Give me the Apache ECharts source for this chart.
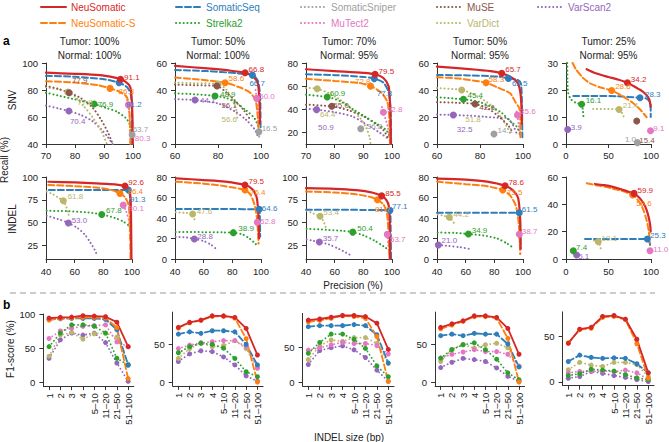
<!DOCTYPE html>
<html><head><meta charset="utf-8">
<script src="https://cdn.jsdelivr.net/npm/echarts@6/dist/echarts.min.js"></script>
<style>html,body{margin:0;padding:0;background:#fff}#c{width:669px;height:442px}</style>
</head><body><div id="c"></div>
<script>
// ---------------- DATA ----------------
const methods = ['NeuSomatic','NeuSomatic-S','SomaticSeq','Strelka2','SomaticSniper','MuTect2','MuSE','VarDict','VarScan2'];
const tumorTitles = ['Tumor: 100%','Tumor: 50%','Tumor: 70%','Tumor: 50%','Tumor: 25%'];
const normalTitles = ['Normal: 100%','Normal: 100%','Normal: 95%','Normal: 95%','Normal: 95%'];
const sizeCats = ['1','2','3','4','5–10','11–20','21–50','51–100'];

// SNV x/y ranges and tick labels
const snvXRange = [[70,100],[60,100],[70,100],[60,100],[0,100]];
const snvXTicks = [[70,80,90,100],[60,80,100],[70,80,90,100],[60,80,100],[0,50,100]];
const snvYRange = [[40,100],[0,60],[10,80],[0,60],[0,30]];
const snvYTicks = [[40,60,80,100],[0,20,40,60],[20,40,60,80],[0,20,40,60],[0,10,20,30]];
const indelXRange = [[40,100],[40,100],[40,100],[40,100],[0,100]];
const indelXTicks = [[40,60,80,100],[40,60,80,100],[40,60,80,100],[40,60,80,100],[0,50,100]];
const indelYRange = [[10,100],[0,80],[10,100],[0,80],[0,60]];
const indelYTicks = [[25,50,75,100],[0,20,40,60,80],[25,50,75,100],[0,20,40,60,80],[0,20,40,60]];
const f1YRange = [[-6,100],[-5,92],[-5.5,98],[-5,92],[-4,77]];
const f1YTicks = [[0,50,100],[0,50],[0,50],[0,50],[0,50]];

// curves in method order: NeuSomatic, NeuSomatic-S, SomaticSeq, Strelka2, SomaticSniper, MuTect2, MuSE, VarDict, VarScan2
const snv1_curves = [
 [[70,92.8],[80,92],[88.6,91],[93,89.5],[95.7,88],[97.5,86],[99,82.5],[99.5,75],[99.8,60],[99.9,40]],
 [[70,86.5],[80,85.5],[88,83.5],[92.1,81.2],[95,79],[97.8,75],[98.7,65],[99,52],[99.1,40]],
 [[70,90.5],[80,89.8],[90,88],[95.2,85.4],[98,82],[99.3,76],[99.7,60],[99.8,40]],
 [[70,78],[75,75.5],[80,73],[86.6,69.6],[91,66.5],[94.4,64],[97.8,58.6],[99.3,52],[99.8,40]],
 [[99.5,56],[99.7,46.8],[99.8,40]],
 [[97.6,75],[98.4,69],[98.9,58],[99.1,40]],
 [[70,83],[74,81],[78,78],[82,74],[86,67],[89,58],[91.5,48],[93,40]],
 [[70,82],[74,80.5],[77.5,78.5],[80,75],[83,68],[86,60],[89,50],[91,40]],
 [[70,68.5],[74,66.5],[77.9,64.4],[82,61.5],[86,57],[89,51],[91,46],[93,40]]
];
const snv1_points = [[95.7,88],[92.1,81.2],[95.2,85.4],[86.6,69.6],[99.7,46.8],[98.4,69],[78,78],[77.5,78.5],[77.9,64.4]];
const snv1_f1 = ['91.1','86.3','91.2','76.9','63.7','80.3','77.9','77.8','70.4'];

const snv2_curves = [
 [[60,57.8],[75,56],[85,54.5],[92.6,52.8],[96,50.5],[98.5,45],[99.3,30],[99.5,15]],
 [[60,49.2],[70,48],[83.3,45.4],[90,42],[95,38],[97.5,32],[98.5,20],[99,8]],
 [[60,54.8],[75,54],[88,52.5],[96,51],[98.5,47],[99.6,35],[99.8,12]],
 [[60,37.5],[70,36.8],[78.6,35.6],[84,34],[88,31],[93,25],[97,19],[99,12]],
 [[98.8,14],[99,9],[99.2,4]],
 [[97.5,40],[98,33.8],[98.5,25],[98.8,15]],
 [[60,44],[70,43.5],[79.5,43],[84,38],[88,32],[92,25],[95,18]],
 [[60,45.5],[70,45],[80,44.5],[84,40],[87,32],[88.5,25],[89,18]],
 [[60,33.2],[69.3,32.6],[80,30],[88,24],[93,18],[97,11],[98.5,6]]
];
const snv2_points = [[92.6,52.8],[83.3,45.4],[96,51],[78.6,35.6],[99,9],[98,33.8],[79.5,43],[80,44.5],[69.3,32.6]];
const snv2_f1 = ['66.8','58.6','66.7','48.9','16.5','50.0','56.1','56.6','44.1'];

const snv3_curves = [
 [[70,74.6],[80,73],[90,71.5],[94.1,70.3],[97,67],[98.8,60],[99.3,45],[99.5,30],[99.6,10]],
 [[70,66.3],[80,64.5],[88.8,62.6],[92.5,60],[96,55],[98.3,47],[99,35],[99.3,10]],
 [[70,70.3],[80,69.5],[90,68],[93.8,66.5],[97,63],[98.8,55],[99.5,40],[99.7,10]],
 [[70,52.6],[77.4,50.6],[82,47],[86.4,40],[91,33],[95,27],[98,22],[99.5,15]],
 null,
 [[96.5,42],[97,37.4],[98.5,25],[99.3,12]],
 [[70,44],[79,42.6],[85,39],[90,34],[94,28],[97,22],[98.5,16]],
 [[70,58.5],[73.9,57.7],[78,54],[82,48],[86,40],[89,32],[91,24],[92.3,15],[92.5,10]],
 [[70,40.5],[73.7,39.7],[80,37.5],[86,34],[90,28.6],[95,21],[99,14]]
];
const snv3_points = [[94.1,70.3],[92.5,60],[93.8,66.5],[77.4,50.6],[89.1,23.2],[97,37.4],[79,42.6],[73.9,57.7],[73.7,39.7]];
const snv3_f1 = ['79.5','72.8','77.8','60.9','36.8','52.8','55.0','64.4','50.9'];

const snv4_curves = [
 [[60,57.3],[75,55.5],[85,54],[90.1,52.4],[95,49],[97.7,45],[99,35],[99.5,15]],
 [[60,49.4],[70,48.5],[82.8,45.4],[88,42],[94,37.5],[96.5,31],[98.6,25],[98.8,5]],
 [[60,51.1],[75,50.8],[88,50],[93.2,48.6],[97.5,47.5],[99,45],[99.5,30],[99.7,5]],
 [[60,34.6],[72.3,33.1],[80,31],[89.3,24],[94,17],[97.1,12.8],[98.5,8]],
 null,
 [[97,24],[97.4,21.5],[98,14],[98.5,5]],
 [[60,31],[70,30.5],[77.7,29.6],[84,26],[89,20],[93,14],[95,9]],
 [[60,41.5],[71.5,40],[78,36],[86,27.6],[91.6,15.4],[94,8]],
 [[60,21.8],[67.6,21.5],[75,21],[82,20.2],[88,19.5],[92.4,19.3],[95,15],[97,8]]
];
const snv4_points = [[90.1,52.4],[82.8,45.4],[93.2,48.6],[72.3,33.1],[86.5,7.4],[97.4,21.5],[77.7,29.6],[71.5,40],[67.6,21.5]];
const snv4_f1 = ['65.7','58.3','62.5','45.4','14.1','35.6','42.6','51.8','32.5'];

const snv5_curves = [
 [[24.3,27.7],[35,26.2],[50,24.8],[62,23.8],[72.2,22.7],[82,21],[90,19.5],[95,18],[98,16.5],[99.6,13.8]],
 [[7.8,30],[12,27.5],[20,24.5],[28.2,22.5],[40,21],[53.7,19.8],[65,18],[79.2,15.1],[88,12.5],[94.9,9.9]],
 [[8.6,17.8],[30,17.8],[60,17.7],[87,17.1],[95,16.8],[99.5,15],[99.7,10]],
 [[1.5,30],[1.7,24],[2.5,19],[6,16.5],[12,15.2],[18.4,14.7],[20,12],[20.5,10]],
 null, null, null,
 [[32,13],[45,13],[62.4,12.8],[66,11.5],[68,10]],
 null
];
const snv5_points = [[72.2,22.7],[53.7,19.8],[87,17.1],[18.4,14.7],[84,0.5],[99.4,4.9],[83.2,8.5],[62.4,12.8],[2,5.4]];
const snv5_f1 = ['34.2','28.6','28.3','16.1','1.0','9.1','15.4','21.4','3.9'];

const indel1_curves = [
 [[41.6,94.8],[60,94],[75,93],[88,92],[95.1,90.1],[97.5,88],[98.8,80],[99.3,60],[99.5,30],[99.6,10]],
 [[41.6,91.2],[60,90],[75,88.5],[85,86],[91.6,82],[95,78],[97.5,70],[98.5,50],[99,10]],
 [[42,85.8],[60,85.8],[80,85.8],[95,85.8],[97.5,85.8],[98.5,80],[99,60],[99.2,40],[99.3,10]],
 [[40.5,62.9],[55,62.5],[70,61],[78.9,58.9],[88,55],[94,51],[98.6,45],[99.2,35]],
 null,
 [[93.9,69.1],[96,62],[98,50],[98.6,30]],
 null,
 [[40.5,84],[45,81],[49,77],[52.1,73.9],[54,68],[55.5,60],[56.5,55]],
 [[40.5,57.4],[48,54],[55.6,49.6],[62,44],[67,37],[71,28],[74,20],[75.4,15]]
];
const indel1_points = [[95.1,90.1],[91.6,82],[97.5,85.8],[78.9,58.9],null,[93.9,69.1],null,[52.1,73.9],[55.6,49.6]];
const indel1_f1 = ['92.6','86.4','91.3','67.8',null,'80.1',null,'61.8','53.0'];

const indel2_curves = [
 [[40.7,78.7],[60,77],[75,75.5],[88.8,72.2],[94,68],[97,60],[98.1,45],[98.5,30],[98.7,20]],
 [[40.7,75.4],[60,73.5],[75,71],[88.8,67.3],[93,62],[96,50],[97.5,35],[98.3,15]],
 [[40.7,48.8],[60,48.8],[80,48.7],[95,48.6],[98.8,48.5],[99.2,40],[99.4,22]],
 [[40.5,26.3],[60,26.2],[73,26],[80.7,25.7],[87,24],[92,20],[96,15],[98.1,12.7]],
 null,
 [[97.4,35.8],[97.8,28],[98.2,20]],
 null,
 [[40.5,45.5],[47,45],[52.3,43.9],[53.5,40],[54,35]],
 [[40.5,21.8],[48,21],[53.5,19.5],[60,17.5],[65,14],[69.1,9.4]]
];
const indel2_points = [[88.8,72.2],[88.8,67.3],[98.8,48.5],[80.7,25.7],null,[97.4,35.8],null,[52.3,43.9],[53.5,19.5]];
const indel2_f1 = ['79.5','76.4','64.6','38.9',null,'52.8',null,'47.6','28.8'];

const indel3_curves = [
 [[40,87.7],[60,87],[75,85.5],[86,83],[92.8,79.3],[96,75],[97.8,68],[98.4,50],[98.6,25],[98.7,10]],
 [[40,84],[60,83],[75,81],[85,78],[89.8,75],[94,70],[96.5,60],[97.5,40],[98,20],[98.2,10]],
 [[40,64.1],[60,64],[80,63.9],[95,63.7],[98.6,63.4],[99,50],[99.2,30],[99.3,10]],
 [[40.5,43.2],[55,42],[65,41],[72.6,39.5],[80,36],[88,30],[94,24],[98.6,18.8]],
 null,
 [[96.7,37],[97.5,25],[98,12]],
 null,
 [[40.5,63],[45,60],[49.8,56.9],[52,52],[53.5,46],[54.4,42]],
 [[40.5,31.5],[45,30],[49.3,28.6],[56,26],[63,21],[68,17],[71.9,13.4]]
];
const indel3_points = [[92.8,79.3],[89.8,75],[98.6,63.4],[72.6,39.5],null,[96.7,37],null,[49.8,56.9],[49.3,28.6]];
const indel3_f1 = ['85.5','81.7','77.1','50.4',null,'53.7',null,'53.4','35.7'];

const indel4_curves = [
 [[40,78.5],[60,77.5],[75,75.5],[87.5,71.5],[93,67],[96.5,60],[97.8,45],[98.2,30],[98.3,10]],
 [[40,75.5],[60,73],[75,71],[85.8,67.3],[91,62],[95,52],[97,35],[97.8,15],[98,5]],
 [[40,45.2],[60,45.2],[80,45.2],[97.4,45.2],[98,35],[98.2,20],[98.3,10]],
 [[40.5,25.8],[52,25.5],[61.9,24.4],[72,23],[82,20],[89,15],[93.7,10.4]],
 null,
 [[97.4,24.1],[97.8,15],[98.2,5]],
 null,
 [[40.5,43.5],[45,42],[48.6,40.7],[51,37],[52.6,33]],
 [[40.9,13.7],[48,12.8],[56,11.5],[64.2,9.5]]
];
const indel4_points = [[87.5,71.5],[85.8,67.3],[97.4,45.2],[61.9,24.4],null,[97.4,24.1],null,[48.6,40.7],[40.9,13.7]];
const indel4_f1 = ['78.6','75.5','61.5','34.9',null,'38.7',null,'44.2','21.0'];

const indel5_curves = [
 [[34.1,54.9],[45,54],[55,52.8],[65,51],[72,49.5],[80,48],[86,45],[91,41],[94.9,35.8],[97.5,30],[99.2,24],[99.6,20]],
 [[24.3,55.4],[35,54],[45,53],[55,51.5],[65,50],[78.4,46.8],[86,42],[91,36],[95,28],[97.5,20],[98.5,12]],
 [[22.4,14.6],[40,14.6],[60,14.6],[80,14.6],[95.7,14.6],[98,13],[99,10]],
 null, null, null, null,
 [[33,13.5],[38,12.7],[40,10],[41,7]],
 null
];
const indel5_points = [[80,48],[78.4,46.8],[95.7,14.6],[8.6,6.1],null,[98.8,6.1],null,[38,12.7],[12.5,2.9]];
const indel5_f1 = ['59.9','58.6','25.3','7.4',null,'11.0',null,'19.1','5.1'];

// F1 by INDEL size, method order: NeuSomatic, NeuSomatic-S, SomaticSeq, Strelka2, MuTect2, VarDict, VarScan2
const f1Methods = ['NeuSomatic','NeuSomatic-S','SomaticSeq','Strelka2','MuTect2','VarDict','VarScan2'];
const f1_p1 = [
 [94,95,95.5,97.5,97,96,88,52],
 [91,93.5,94,95,95,94,80,5],
 [92,93,93.5,93.5,93.5,92,77,25],
 [52,72,84,84,82,72,35,25],
 [64,75,79,82,83,84,59,52],
 [38,69,73,63,71,72,66,26],
 [35,62,72,69,72,58,28,1]
];
const f1_p2 = [
 [72,78.5,81.5,87,87,85,70.5,35.5],
 [71,78,81,86.5,86.5,84,57,0],
 [63,66,64,67.5,67.5,66,49.5,22.5],
 [38.5,46.5,51,49.5,44.5,31,13.5,7],
 [44,48.5,51.5,53,54.5,54.5,46.5,18],
 [31,44,51.5,46.5,48,54.5,44,20],
 [27,37,41,40,33,22.5,8,1]
];
const f1_p3 = [
 [88.5,90,92.5,95,95,93.5,84,46.5],
 [86,88,91,94.5,93.5,91,65,1],
 [79,80.5,80.5,80.5,82,80.5,67.5,27],
 [41,56.5,68.5,68.5,61,48,23,7.5],
 [45.5,49,53,56.5,55,55,52,40],
 [32,52,60,58,63.5,63.5,55,27],
 [25,45,49,51.5,46,35,17,1]
];
const f1_p4 = [
 [72,76.5,80.5,87,87,85,70.5,36.5],
 [70,75,80,86,86,84,57.5,0],
 [61,63,61,64,63,63,50,20],
 [31.5,42.5,49,51.5,42.5,30,12,3],
 [31.5,36.5,39.5,42.5,40,40,36.5,21],
 [27,43,49.5,44.5,49,51,45,20],
 [19,26,31,29.5,27,18.5,7.5,1]
];
const f1_p5 = [
 [42.5,58,60,72,73,69,47,10],
 [43,57.5,59,71,72,68.5,42,4],
 [22.5,29.5,27,26,26.5,26,20,10],
 [7,9,14,13,12,8,4.5,2.5],
 [10,11.5,12,12,11.5,13,10,3],
 [13.5,21.5,18.5,17,21.5,21.5,19,6],
 [4,6,11.5,9.5,7,5,2.5,0.5]
];

// ---------------- STYLE / LAYOUT ----------------
const FONT = 'Liberation Sans, Arial, Helvetica, sans-serif';
const DOT = [0.1, 3.7];
const DASH = [6, 3];
const mstyle = {
  'NeuSomatic':   {color:'#d62728', type:'solid', width:2.2},
  'NeuSomatic-S': {color:'#ff7f0e', type:DASH, width:2},
  'SomaticSeq':   {color:'#2e7ebc', type:DASH, width:2},
  'Strelka2':     {color:'#2ca02c', type:DOT, width:2},
  'SomaticSniper':{color:'#a0a0a0', type:DOT, width:2},
  'MuTect2':      {color:'#e377c2', type:DOT, width:2},
  'MuSE':         {color:'#8c564b', type:DOT, width:2},
  'VarDict':      {color:'#bbb66a', type:DOT, width:2},
  'VarScan2':     {color:'#9467bd', type:DOT, width:2}
};
const drawOrder = [8,7,6,5,4,3,2,1,0];

// label nudges (px) relative to dot, per panel, in method order
const snvNudge = [
 [[0,-2],[5,3],[3.5,22],[0,0],[-3,-5],[3,34],[-0.7,-12.7],[6,10],[-2.5,10.7]],
 [[0,-3],[0,-4],[-6.5,8],[1.5,-1],[-0.7,-3.6],[-1,-2],[1,20],[0,36],[1.5,0.7]],
 [[0,-3],[-19,-4.6],[-1,15],[-1,-4],[2.5,-2],[0,-3],[-2,-1],[-0.8,26],[-2,18]],
 [[0,-3.5],[-1,-3],[0,5],[0.5,-4],[0,-3.3],[-0.8,-3.3],[0.8,3.7],[0,29],[0,15]],
 [[0,-3.4],[0,-4],[1.5,-3.7],[0.5,-4.3],[-16,-3],[-0.7,-2.5],[-1,19.7],[0.2,-4.3],[-0.5,-2]]
];
const indelNudge = [
 [[-0.2,-3.3],[4,-1.6],[-2,10],[0.8,-4.3],null,[1.5,3.3],null,[0.8,-4],[-0.2,-2]],
 [[0,-3.3],[1.5,2.7],[-1,-1],[1.5,-4.3],null,[-0.8,-0.6],null,[0.5,-2.3],[-0.5,-3]],
 [[0,-2.7],[-6,9.5],[-1.5,-4],[1,-3.4],null,[-0.8,5],null,[-0.2,-3.4],[-0.1,-3.4]],
 [[-0.2,-3],[0.8,2.3],[-1,-2.7],[-0.2,-3],null,[-1,-2.6],null,[0.5,-2.3],[-0.2,-4.3]],
 [[0,-3.3],[0,8.3],[-0.8,-3.3],[-0.8,-3.4],null,[-0.2,-1.4],null,[-0.2,-3.4],[-2,1.7]]
];

const snvGrid = [[46,87],[175,86],[306,86],[437,86],[566,85]];
const indelGrid = [[46,86],[175,86],[306,86],[437,86],[566,85]];
const f1Grid = [[43.4,90.4,314,72.1],[172.7,90.4,312.1,73.7],[302.6,91.4,313.4,72.45],[435.1,89.5,312.1,73.7],[562.6,91.4,311.9,73.7]];

const snvPanels = [
  [snv1_curves, snv1_points, snv1_f1],
  [snv2_curves, snv2_points, snv2_f1],
  [snv3_curves, snv3_points, snv3_f1],
  [snv4_curves, snv4_points, snv4_f1],
  [snv5_curves, snv5_points, snv5_f1]
];
const indelPanels = [
  [indel1_curves, indel1_points, indel1_f1],
  [indel2_curves, indel2_points, indel2_f1],
  [indel3_curves, indel3_points, indel3_f1],
  [indel4_curves, indel4_points, indel4_f1],
  [indel5_curves, indel5_points, indel5_f1]
];
const f1Panels = [f1_p1, f1_p2, f1_p3, f1_p4, f1_p5];

// ---------------- BUILD ----------------
const grids = [], xAxes = [], yAxes = [], series = [];
const axisCol = '#333';
function valAxis(gi, range, ticks, margin) {
  return {
    type:'value', gridIndex:gi, min:range[0], max:range[1], scale:false,
    axisLine:{show:true, onZero:false, lineStyle:{color:axisCol, width:1}},
    axisTick:{show:true, inside:false, length:4, customValues:ticks, lineStyle:{color:axisCol, width:1}},
    axisLabel:{show:true, customValues:ticks, fontSize:9.5, color:'#222', margin:margin, fontFamily:FONT},
    splitLine:{show:false}
  };
}

function addPRPanel(panel, gridPos, top, height, xr, xt, yr, yt, nudges, xMargin) {
  const gi = grids.length;
  grids.push({left:gridPos[0], top:top, width:gridPos[1], height:height, containLabel:false, outerBoundsMode:'none'});
  xAxes.push(valAxis(gi, xr, xt, xMargin));
  yAxes.push(valAxis(gi, yr, yt, 8));
  const [curves, pts, f1] = panel;
  drawOrder.forEach(mi => {
    if (!curves[mi]) return;
    const m = methods[mi], s = mstyle[m];
    series.push({
      type:'line', name:m, xAxisIndex:gi, yAxisIndex:gi, data:curves[mi],
      symbol:'none', smooth:0.25, clip:true, silent:true, z:2,
      lineStyle:{color:s.color, width:s.width, type:s.type, cap:'round'}, itemStyle:{color:s.color}
    });
  });
  drawOrder.forEach(mi => {
    if (!pts[mi]) return;
    const m = methods[mi], s = mstyle[m];
    const nd = nudges[mi] || [0,-3];
    series.push({
      type:'scatter', name:m, xAxisIndex:gi, yAxisIndex:gi, data:[pts[mi]],
      symbol:'circle', symbolSize:7, clip:false, silent:true, z:4,
      itemStyle:{color:s.color, opacity:1},
      label:{show:true, position:'right', distance:0, offset:nd, formatter:f1[mi],
             color:s.color, fontSize:8, fontFamily:FONT}
    });
  });
}

for (let i = 0; i < 5; i++) {
  addPRPanel(snvPanels[i], snvGrid[i], 63, 81, snvXRange[i], snvXTicks[i], snvYRange[i], snvYTicks[i], snvNudge[i], 6);
}
for (let i = 0; i < 5; i++) {
  addPRPanel(indelPanels[i], indelGrid[i], 177, 82, indelXRange[i], indelXTicks[i], indelYRange[i], indelYTicks[i], indelNudge[i], 7);
}
const f1Order = [6,5,4,3,2,1,0];
for (let i = 0; i < 5; i++) {
  const gi = grids.length;
  const g = f1Grid[i];
  grids.push({left:g[0], width:g[1], top:g[2], height:g[3], containLabel:false, outerBoundsMode:'none'});
  xAxes.push({
    type:'category', gridIndex:gi, data:sizeCats, boundaryGap:true,
    axisLine:{show:true, onZero:false, lineStyle:{color:axisCol, width:1}},
    axisTick:{show:true, alignWithLabel:true, length:4, interval:0, lineStyle:{color:axisCol}},
    axisLabel:{show:true, rotate:90, interval:0, fontSize:9.5, color:'#222', margin:7, fontFamily:FONT},
    splitLine:{show:false}
  });
  yAxes.push(valAxis(gi, f1YRange[i], f1YTicks[i], 8));
  f1Order.forEach(mi => {
    const m = f1Methods[mi], s = mstyle[m];
    series.push({
      type:'line', name:m, xAxisIndex:gi, yAxisIndex:gi, data:f1Panels[i][mi],
      symbol:'circle', symbolSize:5, showSymbol:true, silent:true, z:3,
      lineStyle:{color:s.color, width:Math.min(s.width,1.8), type:s.type, cap:'round'},
      itemStyle:{color:s.color}
    });
  });
}

// legends: one per entry to reproduce the 5-column layout
const legendSpots = [
  ['NeuSomatic',40,2],['SomaticSeq',175,2],['SomaticSniper',300,2],['MuSE',436,2],['VarScan2',537,2],
  ['NeuSomatic-S',40,18],['Strelka2',175,18],['MuTect2',300,18],['VarDict',436,18]
];
const legends = legendSpots.map(([m, x, y]) => ({
  data:[m], left:x, top:y, orient:'horizontal', itemWidth:25, itemHeight:10, itemGap:5,
  selectedMode:false, padding:0,
  itemStyle:{opacity:0},
  lineStyle:{type:mstyle[m].type, width:2, cap:'round', color:mstyle[m].color},
  textStyle:{color:mstyle[m].color, fontSize:10, fontFamily:FONT, padding:[0,0,0,0]}
}));

// text / decoration
const graphics = [];
function txt(text, x, y, opts) {
  opts = opts || {};
  graphics.push({type:'text', x:x, y:y, rotation:opts.rot || 0, silent:true,
    style:{text:text, fill:opts.color || '#222', font:(opts.weight||'normal')+' '+(opts.size||10)+'px '+FONT,
      align:opts.align || 'center', verticalAlign:'middle'}});
}
for (let i = 0; i < 5; i++) {
  const cx = snvGrid[i][0] + snvGrid[i][1]/2;
  txt(tumorTitles[i], cx, 41);
  txt(normalTitles[i], cx, 55);
}
txt('a', 3, 41, {weight:'bold', size:12, align:'left', color:'#000'});
txt('b', 3, 305, {weight:'bold', size:12, align:'left', color:'#000'});
txt('SNV', 12, 100, {rot:Math.PI/2});
txt('INDEL', 12, 219, {rot:Math.PI/2});
txt('Recall (%)', 4, 160, {rot:Math.PI/2});
txt('Precision (%)', 353, 285);
txt('F1-score (%)', 10, 349, {rot:Math.PI/2});
txt('INDEL size (bp)', 349, 437);
graphics.push({type:'line', silent:true, shape:{x1:10, y1:293, x2:655, y2:293},
  style:{stroke:'#999', lineWidth:1.2, lineDash:[6,4]}});

const chart = echarts.init(document.getElementById('c'), null, {renderer:'svg', width:669, height:442});
chart.setOption({
  animation:false,
  backgroundColor:'#fff',
  textStyle:{fontFamily:FONT},
  legend:legends,
  grid:grids, xAxis:xAxes, yAxis:yAxes, series:series,
  graphic:graphics,
  tooltip:{show:false}
});
</script></body></html>
